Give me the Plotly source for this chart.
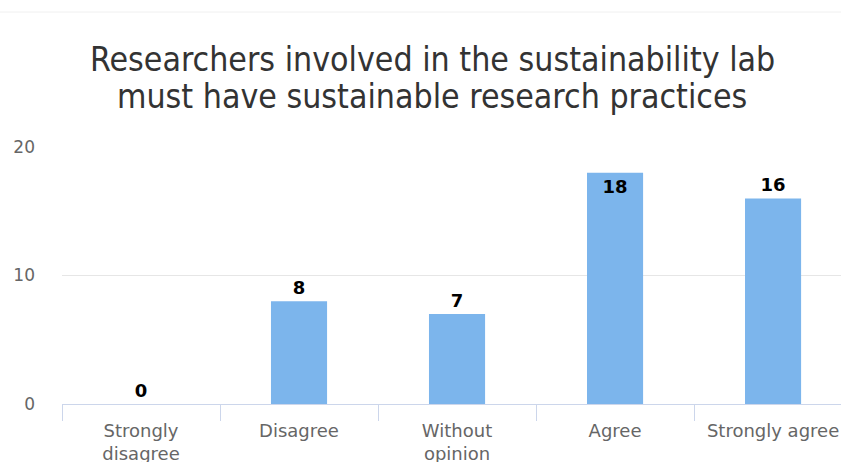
import plotly.graph_objects as go

categories = ["Strongly disagree", "Disagree", "Without opinion", "Agree", "Strongly agree"]
tick_labels = ["Strongly<br>disagree", "Disagree", "Without<br>opinion", "Agree", "Strongly agree"]
values = [0, 8, 7, 18, 16]
y_ticks = [0, 10, 20]
title_lines = ["Researchers involved in the sustainability lab",
               "must have sustainable research practices"]

W, H = 841, 462
left, right = 62, 0
top, bottom = 147, 58
ph = H - top - bottom


def py(ypix):
    # pixel from top -> paper y
    return (H - bottom - ypix) / ph


fig = go.Figure()
fig.add_trace(go.Bar(
    x=categories, y=values,
    marker=dict(color="#7cb5ec", line=dict(width=0)),
    text=[str(v) for v in values],
    textposition=["outside", "outside", "outside", "inside", "outside"],
    insidetextanchor="end",
    textfont=dict(family="DejaVu Sans", size=18, color="#000000", weight="bold"),
    outsidetextfont=dict(family="DejaVu Sans", size=18, color="#000000", weight="bold"),
    insidetextfont=dict(family="DejaVu Sans", size=18, color="#000000", weight="bold"),
    cliponaxis=False,
    constraintext="none",
))

title_font = dict(family="DejaVu Sans Condensed", size=33.6, color="#333333")
annotations = [
    dict(text=title_lines[0], xref="paper", yref="paper", x=(432 - left) / (W - left), y=py(59),
         xanchor="center", yanchor="middle", showarrow=False, font=title_font),
    dict(text=title_lines[1], xref="paper", yref="paper", x=(432 - left) / (W - left), y=py(96),
         xanchor="center", yanchor="middle", showarrow=False, font=title_font),
]

fig.update_layout(
    width=W, height=H,
    margin=dict(l=left, r=right, t=top, b=bottom, pad=0, autoexpand=False),
    paper_bgcolor="white", plot_bgcolor="white",
    bargap=0.645,
    showlegend=False,
    annotations=annotations,
    xaxis=dict(
        type="category",
        categoryorder="array", categoryarray=categories,
        tickvals=categories, ticktext=tick_labels,
        range=[-0.5, 4.43],
        showline=True, linecolor="#ccd6eb", linewidth=1,
        ticks="outside", tickson="boundaries", ticklen=16, tickcolor="#ccd6eb",
        tickfont=dict(family="DejaVu Sans", size=18, color="#666666"),
        ticklabelstandoff=10,
        showgrid=False, zeroline=False, automargin=False,
    ),
    yaxis=dict(
        range=[0, 20], tickvals=y_ticks,
        showgrid=True, gridcolor="#e6e6e6", gridwidth=1,
        zeroline=False, showline=False, automargin=False,
        tickfont=dict(family="DejaVu Sans", size=17, color="#666666"),
        ticklabelstandoff=26,
    ),
    shapes=[dict(type="line", xref="paper", yref="paper", x0=-left / (W - left), x1=1,
                 y0=py(12), y1=py(12),
                 line=dict(color="#f0f0f0", width=1))],
)

fig.write_html("out.html")
